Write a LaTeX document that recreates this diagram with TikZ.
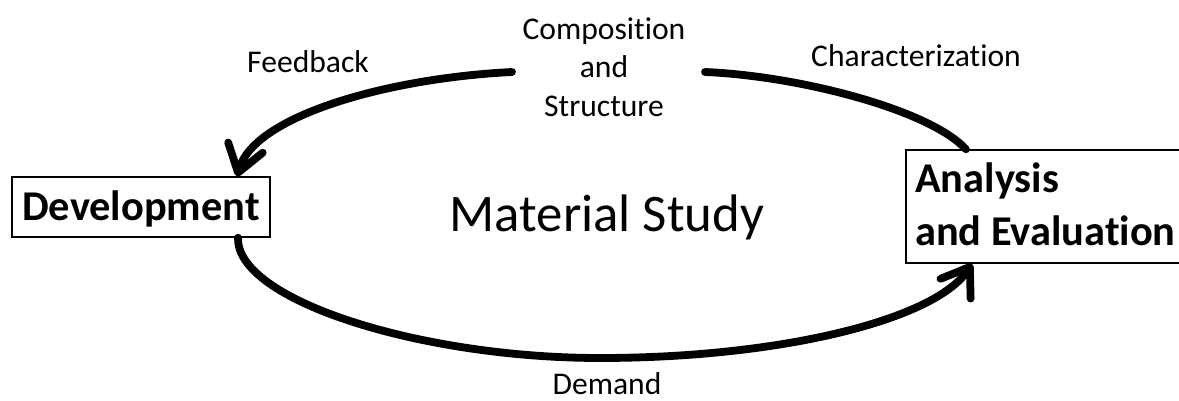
\documentclass[tikz,border=0pt]{standalone}
\usepackage{fontspec}
\setmainfont{Carlito}[Ligatures=NoCommon]
\usetikzlibrary{arrows.meta}
\begin{document}
\begin{tikzpicture}[x=1pt,y=-1pt,
  label/.style={font=\fontsize{31.6}{38}\selectfont, inner sep=0pt},
  heading/.style={font=\fontsize{42.4}{50}\selectfont\bfseries, inner sep=0pt},
  stagebox/.style={draw, line width=1.4pt, rectangle},
  flow/.style={line width=7.8pt, line cap=round},
  barb/.style={-{Straight Barb[length=26pt, width=36pt, round]}}
]
\useasboundingbox (0,0) rectangle (1179,401);
\clip (0,0) rectangle (1179,401);

% stage boxes
\node[stagebox, heading, minimum width=258pt, minimum height=60pt,
      text height=26pt, text depth=0pt] (dev) at (141,207) {Development};
\node[stagebox, minimum width=278pt, minimum height=113pt] (ana) at (1045,206.5) {};
\node[heading, anchor=base west] (ana1) at (915,193) {Analysis};
\node[heading, anchor=base west] (ana2) at (915,245) {and Evaluation};

% central title
\node[font=\fontsize{52.8}{62}\selectfont, inner sep=0pt, anchor=base] (title) at (607,232) {Material Study};

% cycle labels
\node[label, anchor=base] (comp1) at (604,40) {Composition};
\node[label, anchor=base] (comp2) at (604,78) {and};
\node[label, anchor=base] (comp3) at (604,117) {Structure};
\node[label, anchor=base] (fb) at (308,73) {Feedback};
\node[label, anchor=base] (ch) at (916,67) {Characterization};
\node[label, anchor=base] (dm) at (607,394) {Demand};

% loose ends of the upper arcs beside the middle label
\coordinate (gapL) at (512,72);
\coordinate (gapR) at (705,72);

% upper right arc: characterization leads up into the middle label
\draw[flow] (gapR) .. controls (800,76) and (930,110) .. (ana.north -| 966,0);
% upper left arc: feedback back to development
\draw[flow, barb] (gapL) .. controls (390,78) and (255,115) .. (dev.north -| 237,0);
% lower arc: demand from development to analysis
\draw[flow, barb] (dev.south -| 238,0) .. controls (236,300) and (420,358) .. (600,358)
      .. controls (780,358) and (935,320) .. (ana.south -| 972,0);
\end{tikzpicture}
\end{document}
